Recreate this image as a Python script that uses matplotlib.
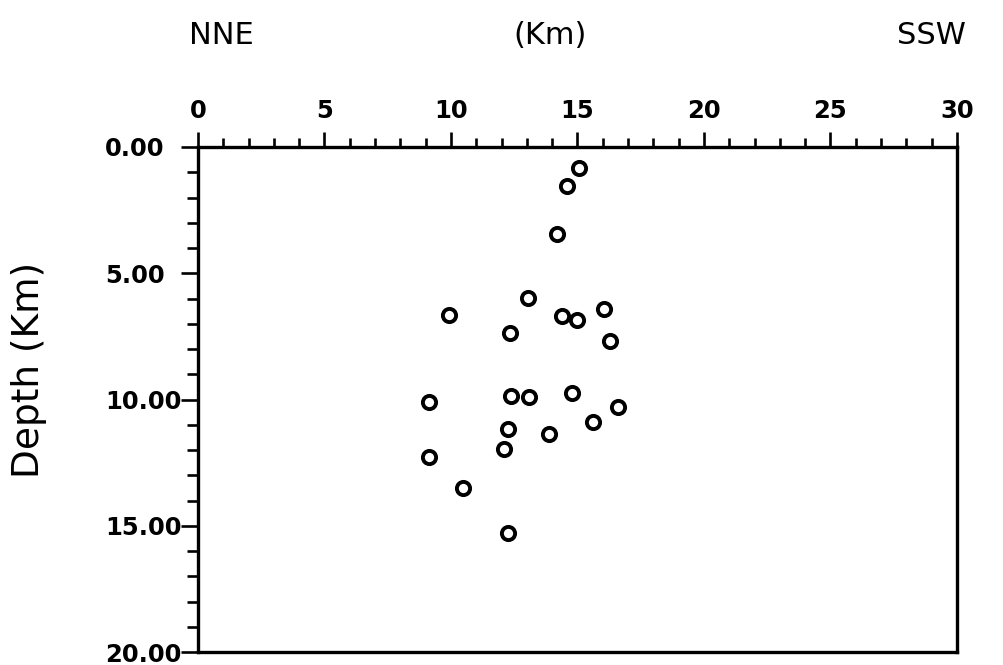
import matplotlib
matplotlib.use("Agg")
import matplotlib.pyplot as plt
from matplotlib.ticker import MultipleLocator

# Hypocenter cross-section data (distance along profile, depth), km
distance_km = [15.06, 14.58, 14.19, 13.04, 9.92, 14.39, 14.98, 16.05, 12.33, 16.28,
               9.13, 12.37, 13.08, 14.78, 16.60, 12.25, 13.87, 15.61, 12.09, 9.13,
               10.47, 12.25]
depth_km = [0.83, 1.54, 3.45, 5.98, 6.65, 6.69, 6.85, 6.42, 7.37, 7.68,
            10.10, 9.86, 9.90, 9.74, 10.30, 11.17, 11.37, 10.89, 11.96, 12.28,
            13.50, 15.29]

x_ticks = [0, 5, 10, 15, 20, 25, 30]
x_tick_labels = ["0", "5", "10", "15", "20", "25", "30"]
y_ticks = [0, 5, 10, 15, 20]
y_tick_labels = ["0.00", "5.00", "10.00", "15.00", "20.00"]

W, H = 1004, 665
fig = plt.figure(figsize=(W / 100, H / 100), dpi=100)
L, R, T, B = 198, 957, 147, 652
ax = fig.add_axes([L / W, 1 - B / H, (R - L) / W, (B - T) / H])

ax.plot(distance_km, depth_km, linestyle="none", marker="o", ms=9.5,
        mfc="none", mec="black", mew=2.8, clip_on=False)

ax.set_xlim(0, 30)
ax.set_ylim(20, 0)
ax.xaxis.tick_top()
ax.set_xticks(x_ticks)
ax.set_xticklabels(x_tick_labels)
ax.set_yticks(y_ticks)
ax.set_yticklabels(y_tick_labels, ha="left")
ax.xaxis.set_minor_locator(MultipleLocator(1))
ax.yaxis.set_minor_locator(MultipleLocator(1))

for s in ax.spines.values():
    s.set_linewidth(2.4)

ax.tick_params(axis="x", which="major", direction="out", length=11, width=1.9,
               pad=6, top=True, bottom=False, labeltop=True, labelbottom=False)
ax.tick_params(axis="x", which="minor", direction="out", length=6.5, width=1.9,
               top=True, bottom=False)
ax.tick_params(axis="y", which="major", direction="out", length=12, width=1.9,
               pad=55, left=True, right=False)
ax.tick_params(axis="y", which="minor", direction="out", length=8, width=1.9,
               left=True, right=False)
for lab in ax.get_xticklabels() + ax.get_yticklabels():
    lab.set_fontfamily("DejaVu Sans")
    lab.set_fontweight("bold")
    lab.set_fontsize(17.5)

head_font = dict(family="DejaVu Sans", size=22, ha="center", va="center")
fig.text(221 / W, 1 - 35 / H, "NNE", **head_font)
fig.text(550 / W, 1 - 35 / H, "(Km)", **head_font)
fig.text(931 / W, 1 - 35 / H, "SSW", **head_font)

fig.text(29 / W, 1 - 370 / H, "Depth (Km)", family="DejaVu Sans", size=27,
         rotation=90, ha="center", va="center")

fig.savefig("out.png", dpi=100)
